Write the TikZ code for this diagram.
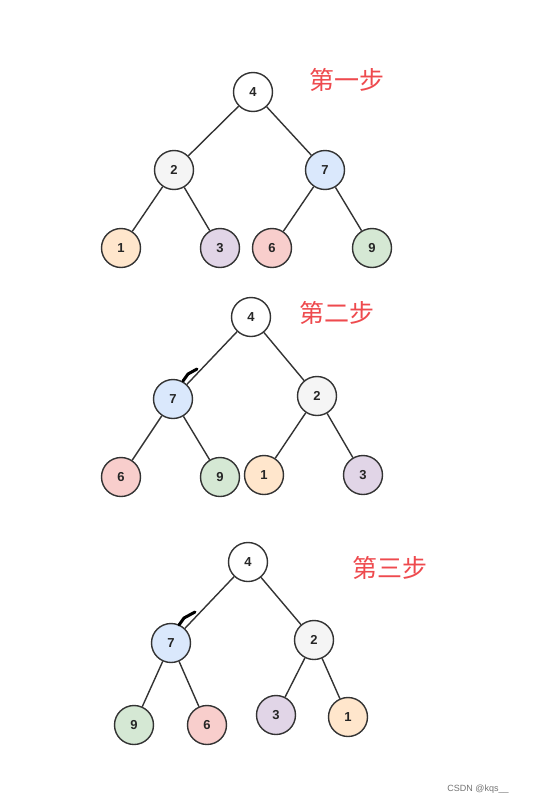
\documentclass[tikz,border=0pt]{standalone}
\usepackage{fontspec}
\setsansfont{Liberation Sans}
\newfontfamily\cjk{Noto Sans CJK SC}
\usepackage{xcolor}
\usetikzlibrary{positioning}
\definecolor{edgegray}{HTML}{333333}
\definecolor{fillwhite}{HTML}{FFFFFF}
\definecolor{fillgray}{HTML}{F5F5F5}
\definecolor{fillblue}{HTML}{DAE8FC}
\definecolor{fillorange}{HTML}{FFE6CC}
\definecolor{fillpurple}{HTML}{E1D5E7}
\definecolor{fillred}{HTML}{F8CECC}
\definecolor{fillgreen}{HTML}{D5E8D4}
\definecolor{steptext}{HTML}{EE4A4E}
\tikzset{
  heapnode/.style={circle,draw=edgegray,line width=1.4pt,minimum size=39pt,inner sep=0pt,
    font=\sffamily\bfseries\fontsize{13}{13}\selectfont,text=black!85},
  heapedge/.style={draw=edgegray,line width=1.4pt},
  steplabel/.style={font=\cjk\fontsize{25}{25}\selectfont,text=steptext},
  blob/.style={line width=3pt,line cap=round}
}
\begin{document}
\begin{tikzpicture}[x=1pt,y=-1pt]
		\useasboundingbox (0,0) rectangle (536,806);
		%First step
		\node[heapnode,fill=fillwhite] (aroot) at (253,92) {4};
		\node[heapnode,fill=fillgray] (aleft) at (174,170) {2};
		\node[heapnode,fill=fillblue] (aright) at (325,170) {7};
		\node[heapnode,fill=fillorange] (aleafa) at (121,248) {1};
		\node[heapnode,fill=fillpurple] (aleafb) at (220,248) {3};
		\node[heapnode,fill=fillred] (aleafc) at (272,248) {6};
		\node[heapnode,fill=fillgreen] (aleafd) at (372,248) {9};
		\node[steplabel] (astep) at (347,80) {第一步};
		\foreach \p/\c in {aroot/aleft,aroot/aright,aleft/aleafa,aleft/aleafb,aright/aleafc,aright/aleafd}
		\draw[heapedge] (\p)--(\c);
		%Second step
		\node[heapnode,fill=fillwhite] (broot) at (251,317) {4};
		\node[heapnode,fill=fillblue] (bleft) at (173,399) {7};
		\node[heapnode,fill=fillgray] (bright) at (317,396) {2};
		\node[heapnode,fill=fillred] (bleafa) at (121,477) {6};
		\node[heapnode,fill=fillgreen] (bleafb) at (220,477) {9};
		\node[heapnode,fill=fillorange] (bleafc) at (264,475) {1};
		\node[heapnode,fill=fillpurple] (bleafd) at (363,475) {3};
		\node[steplabel] (bstep) at (337,313) {第二步};
		\foreach \p/\c in {broot/bleft,broot/bright,bleft/bleafa,bleft/bleafb,bright/bleafc,bright/bleafd}
		\draw[heapedge] (\p)--(\c);
		\draw[blob] (183,381)--(188,374)--(197,369);
		%Third step
		\node[heapnode,fill=fillwhite] (croot) at (248,562) {4};
		\node[heapnode,fill=fillblue] (cleft) at (171,643) {7};
		\node[heapnode,fill=fillgray] (cright) at (314,640) {2};
		\node[heapnode,fill=fillgreen] (cleafa) at (134,725) {9};
		\node[heapnode,fill=fillred] (cleafb) at (207,725) {6};
		\node[heapnode,fill=fillpurple] (cleafc) at (276,715) {3};
		\node[heapnode,fill=fillorange] (cleafd) at (348,717) {1};
		\node[steplabel] (cstep) at (390,568) {第三步};
		\foreach \p/\c in {croot/cleft,croot/cright,cleft/cleafa,cleft/cleafb,cright/cleafc,cright/cleafd}
		\draw[heapedge] (\p)--(\c);
		\draw[blob] (179,625)--(184,618)--(195,612);
		\node[font=\sffamily\fontsize{9}{9}\selectfont,text=black!55] (mark) at (478,789) {CSDN @kqs\_\_};
		\end{tikzpicture}
\end{document}
